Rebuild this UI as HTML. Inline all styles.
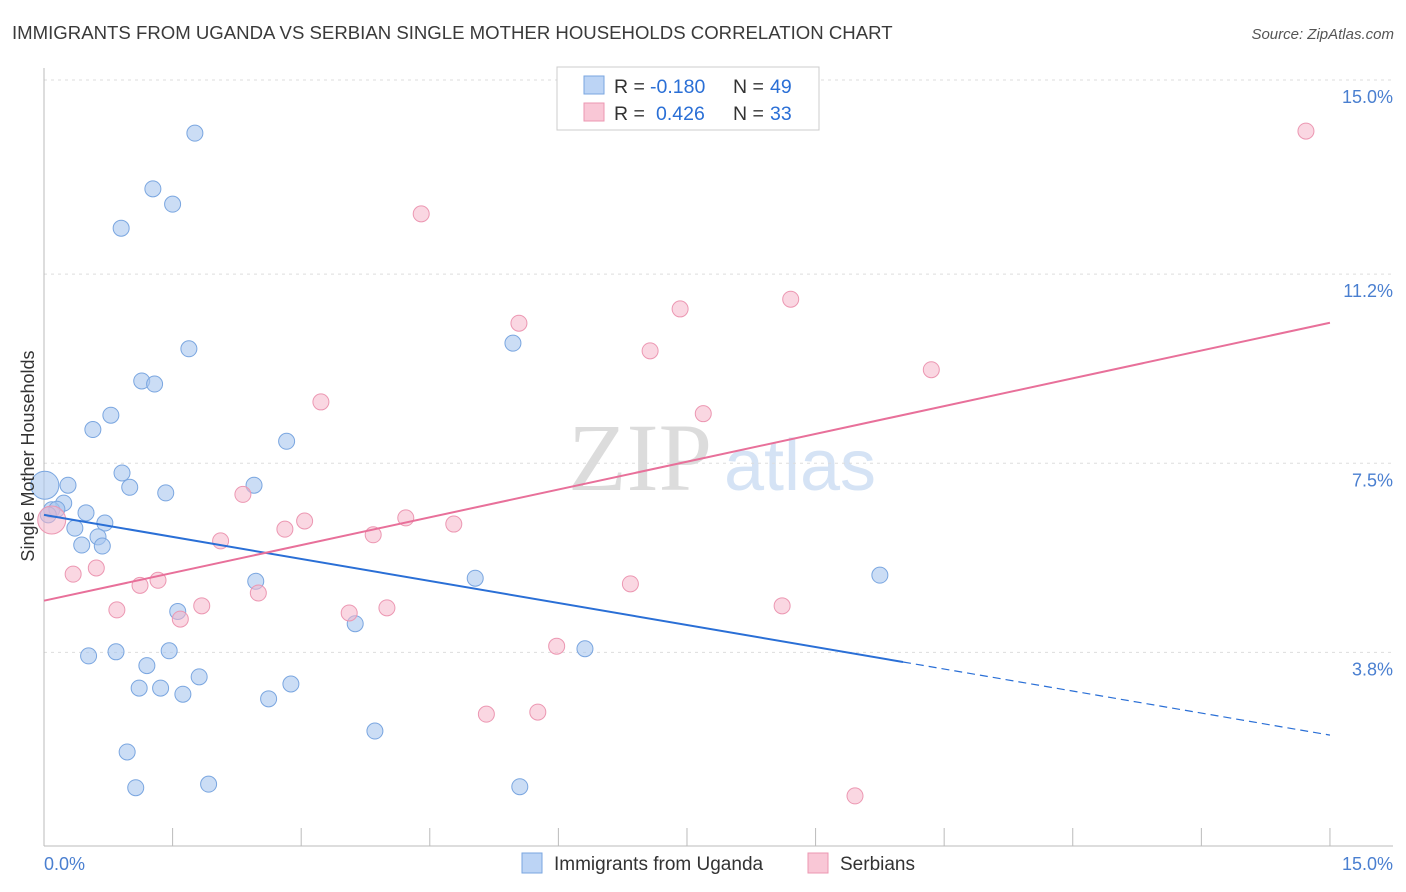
<!DOCTYPE html>
<html><head><meta charset="utf-8"><style>
body{margin:0;background:#fff;font-family:"Liberation Sans",sans-serif;}
svg{display:block}
</style></head><body>
<svg id="chart" width="1406" height="892" xmlns="http://www.w3.org/2000/svg">
<text x="12" y="39" font-size="18.6" fill="#3a3a3a">IMMIGRANTS FROM UGANDA VS SERBIAN SINGLE MOTHER HOUSEHOLDS CORRELATION CHART</text>
<text x="1394" y="39" font-size="15" fill="#555" font-style="italic" text-anchor="end">Source: ZipAtlas.com</text>
<text x="640" y="490" font-size="96" fill="#dcdcdc" font-family="Liberation Serif,serif" text-anchor="middle">ZIP</text>
<text x="800" y="490" font-size="72" fill="#d5e3f5" text-anchor="middle">atlas</text>
<g id="grid"></g>
<g id="axes"></g>
<g id="marks"></g>
<text transform="translate(34,456) rotate(-90)" font-size="18" fill="#333" text-anchor="middle">Single Mother Households</text>
<g>
<rect x="557" y="67" width="262" height="63" fill="#fff" stroke="#ccc"/>
<rect x="584" y="76" width="20" height="18" fill="#bcd4f5" stroke="#7aa6e0"/>
<rect x="584" y="103" width="20" height="18" fill="#f9c7d6" stroke="#ec97b2"/>
<text y="93" font-size="19.5" fill="#333"><tspan x="614">R =</tspan><tspan x="650" fill="#2a6fd6">-0.180</tspan><tspan x="733">N =</tspan><tspan x="770" fill="#2a6fd6">49</tspan></text>
<text y="120" font-size="19.5" fill="#333"><tspan x="614">R =</tspan><tspan x="656" fill="#2a6fd6">0.426</tspan><tspan x="733">N =</tspan><tspan x="770" fill="#2a6fd6">33</tspan></text>
</g>
<g>
<rect x="522" y="853" width="20" height="20" fill="#bcd4f5" stroke="#7aa6e0"/>
<text x="554" y="870" font-size="19" fill="#333">Immigrants from Uganda</text>
<rect x="808" y="853" width="20" height="20" fill="#f9c7d6" stroke="#ec97b2"/>
<text x="840" y="870" font-size="19" fill="#333">Serbians</text>
</g>
</svg>
<script>
const yTicks=[15.0,11.2,7.5,3.8];
const yTickLabels=["15.0%","11.2%","7.5%","3.8%"];
const xTickLabels=["0.0%","15.0%"];
const blueX=[1.76,1.27,1.50,0.90,1.69,5.47,1.14,1.29,0.78,0.57,2.83,0.91,1.00,1.42,2.45,0.28,0.23,0.09,0.49,0.15,0.71,0.36,0.63,0.44,0.68,5.03,2.47,9.75,1.56,3.63,6.31,0.84,0.52,1.46,1.20,1.81,1.11,1.36,1.62,2.88,2.62,3.86,0.97,1.07,1.92,5.55,0.05,0.01];
const blueY=[13.96,12.87,12.57,12.10,9.74,9.85,9.11,9.05,8.44,8.16,7.93,7.31,7.03,6.92,7.07,7.07,6.72,6.59,6.53,6.60,6.33,6.23,6.06,5.90,5.88,5.25,5.19,5.31,4.60,4.36,3.87,3.81,3.73,3.83,3.54,3.32,3.10,3.10,2.98,3.18,2.89,2.26,1.85,1.15,1.22,1.17,6.49,7.07];
const pinkX=[14.72,4.40,8.71,5.54,7.42,7.07,10.35,3.23,7.69,2.32,4.22,3.04,4.78,2.81,3.84,2.06,0.61,0.34,1.33,1.12,6.84,2.50,1.84,0.85,3.56,4.00,8.61,1.59,5.98,5.16,5.76,9.46,0.09];
const pinkY=[14.0,12.38,10.71,10.24,10.52,9.70,9.33,8.70,8.47,6.89,6.43,6.37,6.31,6.21,6.10,5.98,5.45,5.33,5.21,5.11,5.14,4.96,4.71,4.63,4.57,4.67,4.71,4.45,3.92,2.59,2.63,0.99,6.39];
const blueTrend=[6.49,2.18];
const blueSolidEnd=10.02;
const pinkTrend=[4.81,10.25];
const NS="http://www.w3.org/2000/svg";
const xS=v=>44+v*85.73, yS=v=>846.5-v*51.1;
function mk(parent,tag,attrs){const e=document.createElementNS(NS,tag);for(const k in attrs)e.setAttribute(k,attrs[k]);document.getElementById(parent).appendChild(e);return e;}
yTicks.forEach((t,i)=>{
 const l=mk('grid','line',{x1:44,x2:1393,y1:yS(t),y2:yS(t),stroke:'#ddd','stroke-dasharray':'3,4'});
 
 
 const tx=mk('grid','text',{x:1393,y:yS(t)+23,'font-size':18,fill:'#4a7fd0','text-anchor':'end'});
 tx.textContent=yTickLabels[i];
 
 
});
mk('axes','line',{x1:44,x2:44,y1:68,y2:846,stroke:'#bbb'});
mk('axes','line',{x1:44,x2:1393,y1:846,y2:846,stroke:'#bbb'});
for(let i=0;i<=10;i++){const t=mk('axes','line',{x1:xS(i*1.5),x2:xS(i*1.5),y1:828,y2:846,stroke:'#bbb'});}
const xl0=mk('axes','text',{x:44,y:870,'font-size':18,fill:'#4a7fd0'});xl0.textContent=xTickLabels[0];

const xl1=mk('axes','text',{x:1393,y:870,'font-size':18,fill:'#4a7fd0','text-anchor':'end'});xl1.textContent=xTickLabels[1];

blueX.forEach((x,i)=>{const big=i===blueX.length-1;const c=mk('marks','circle',{cx:xS(x),cy:yS(blueY[i]),r:big?14:8,fill:'#a9c7ef','fill-opacity':0.6,stroke:'#7aa6e0'});
 
 });
pinkX.forEach((x,i)=>{const big=i===pinkX.length-1;const c=mk('marks','circle',{cx:xS(x),cy:yS(pinkY[i]),r:big?14:8,fill:'#f6b6ca','fill-opacity':0.55,stroke:'#ec97b2'});
 
 });
const bAt=x=>blueTrend[0]+(blueTrend[1]-blueTrend[0])*x/15;
const b1=mk('marks','line',{x1:xS(0),y1:yS(bAt(0)),x2:xS(blueSolidEnd),y2:yS(bAt(blueSolidEnd)),stroke:'#2a6fd6','stroke-width':2});

const b2=mk('marks','line',{x1:xS(blueSolidEnd),y1:yS(bAt(blueSolidEnd)),x2:xS(15),y2:yS(bAt(15)),stroke:'#2a6fd6','stroke-width':1.2,'stroke-dasharray':'8,5'});

const p1=mk('marks','line',{x1:xS(0),y1:yS(pinkTrend[0]),x2:xS(15),y2:yS(pinkTrend[1]),stroke:'#e8709a','stroke-width':2});

</script>
</body></html>
